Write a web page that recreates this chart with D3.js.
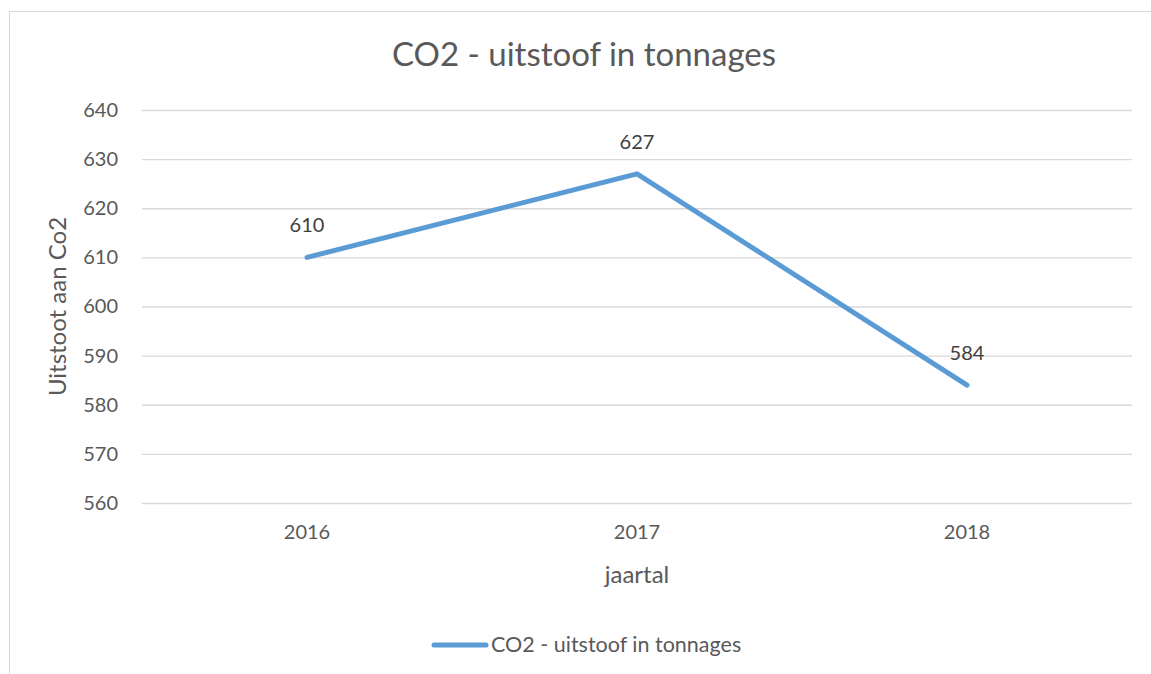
<!DOCTYPE html>
<html>
<head>
<meta charset="utf-8">
<script src="https://cdn.jsdelivr.net/npm/d3@7"></script>
<style>
  html, body { margin: 0; padding: 0; background: #fff; }
  svg { display: block; }
  text { font-family: Lato, "Open Sans", sans-serif; fill: #595959; }
</style>
</head>
<body>
<svg id="chart" width="1151" height="674"></svg>
<script>
const chartTitle = "CO2 - uitstoof in tonnages";
const seriesName = "CO2 - uitstoof in tonnages";
const xTitle = "jaartal";
const yTitle = "Uitstoot aan Co2";
const categories = ["2016", "2017", "2018"];
const values = [610, 627, 584];
const yTicks = [560, 570, 580, 590, 600, 610, 620, 630, 640];

const svg = d3.select("#chart");
const plot = { left: 142, right: 1132, top: 110, bottom: 503 };

// chart border (extends beyond the right and bottom edges)
svg.append("rect")
  .attr("x", 9.5).attr("y", 11.5)
  .attr("width", 1200).attr("height", 800)
  .attr("fill", "#fff").attr("stroke", "#D9D9D9").attr("stroke-width", 1);

const x = d3.scaleBand().domain(categories).range([plot.left, plot.right]);
const y = d3.scaleLinear().domain([560, 640]).range([plot.bottom, plot.top]);

// gridlines
svg.append("g").attr("class", "grid")
  .attr("transform", `translate(${plot.left},0)`)
  .call(d3.axisLeft(y).tickValues(yTicks).tickSize(-(plot.right - plot.left)).tickFormat(""))
  .call(g => g.select(".domain").remove())
  .call(g => g.selectAll("line").attr("stroke", "#D9D9D9").attr("stroke-width", 1.3));

// y axis labels
svg.append("g")
  .attr("transform", `translate(${plot.left},0)`)
  .call(d3.axisLeft(y).tickValues(yTicks).tickSize(0).tickPadding(24).tickFormat(d3.format("d")))
  .call(g => g.select(".domain").remove())
  .call(g => g.selectAll("text").attr("font-size", 20).attr("fill", "#595959")
    .style("font-family", "Lato, sans-serif"));

// x axis labels
svg.append("g")
  .attr("transform", `translate(0,${plot.bottom})`)
  .call(d3.axisBottom(x).tickSize(0).tickPadding(22))
  .call(g => g.select(".domain").remove())
  .call(g => g.selectAll("text").attr("font-size", 20).attr("fill", "#595959")
    .style("font-family", "Lato, sans-serif"));

// line
const line = d3.line()
  .x((d, i) => x(categories[i]) + x.bandwidth() / 2)
  .y(d => y(d));

svg.append("path")
  .datum(values)
  .attr("d", line)
  .attr("fill", "none")
  .attr("stroke", "#5B9BD5")
  .attr("stroke-width", 5)
  .attr("stroke-linecap", "round")
  .attr("stroke-linejoin", "round");

// data labels
svg.append("g").selectAll("text")
  .data(values)
  .join("text")
  .attr("x", (d, i) => x(categories[i]) + x.bandwidth() / 2)
  .attr("y", d => y(d) - 25)
  .attr("text-anchor", "middle")
  .attr("font-size", 20)
  .style("fill", "#404040")
  .text(d => d);

// title
svg.append("text")
  .attr("x", 584).attr("y", 66)
  .attr("text-anchor", "middle")
  .attr("font-size", 33)
  .text(chartTitle);

// axis titles
svg.append("text")
  .attr("x", (plot.left + plot.right) / 2).attr("y", 583)
  .attr("text-anchor", "middle")
  .attr("font-size", 24)
  .text(xTitle);

svg.append("text")
  .attr("transform", `translate(66,${(plot.top + plot.bottom) / 2}) rotate(-90)`)
  .attr("text-anchor", "middle")
  .attr("font-size", 24)
  .text(yTitle);

// legend
const lg = svg.append("g");
lg.append("line")
  .attr("x1", 434).attr("x2", 486).attr("y1", 645).attr("y2", 645)
  .attr("stroke", "#5B9BD5").attr("stroke-width", 5).attr("stroke-linecap", "round");
lg.append("text")
  .attr("x", 491).attr("y", 652)
  .attr("font-size", 21.5)
  .text(seriesName);
</script>
</body>
</html>
